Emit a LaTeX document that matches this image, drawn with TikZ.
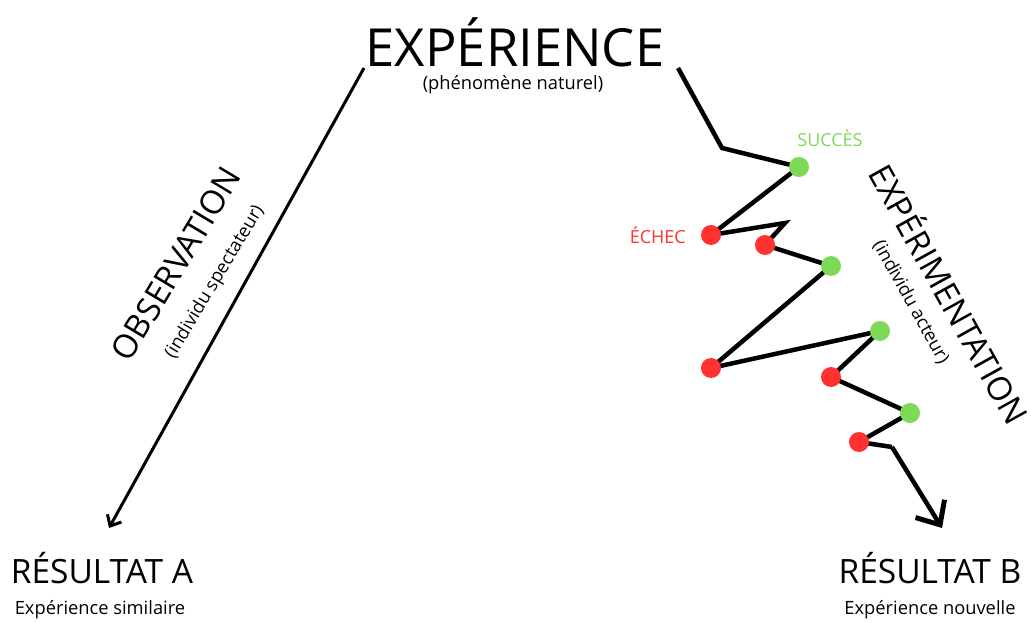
\documentclass[tikz,border=0pt]{standalone}
\usepackage{fontspec}
\setmainfont{Open Sans}
\usetikzlibrary{arrows.meta,positioning,calc}
\definecolor{okgreen}{HTML}{7ED957}
\definecolor{kored}{HTML}{FF3131}
\tikzset{ok/.style={circle,fill=okgreen,inner sep=0pt,minimum size=20pt},
 ko/.style={circle,fill=kored,inner sep=0pt,minimum size=20pt},
 zig/.style={line width=4.5pt,line join=miter},
 obs/.style={-{Straight Barb[length=9pt,width=16pt]},line width=3pt},
 title/.style={inner sep=0pt,font=\fontsize{52.5}{56}\selectfont},
 res/.style={inner sep=0pt,font=\fontsize{33.5}{36}\selectfont},
 way/.style={inner sep=0pt,font=\fontsize{33}{36}\selectfont},
 sub/.style={inner sep=0pt,font=\fontsize{18.3}{21}\selectfont},
 tag/.style={inner sep=0pt,font=\fontsize{18}{21}\selectfont}}

\begin{document}
\begin{tikzpicture}[x=1pt,y=-1pt]
\useasboundingbox (0,0) rectangle (1031,623);
% top
\node[title](exp) at(515,42){EXPÉRIENCE};
\node[sub](nat) at(513,85){(phénomène naturel)};
% observation side
\coordinate(o1) at(364,68);
\node[res](resa) at(102,568){RÉSULTAT A};
\node[sub](sima) at(100,610){Expérience similaire};
\coordinate(o2) at(109,528);
\draw[obs](o1)--(o2);
\node[way,rotate=59](obsv) at(176,264){OBSERVATION};
\node[sub,rotate=59](spec) at(215,282){(individu spectateur)};
% experimentation side
\coordinate(p0) at(678,68);
\coordinate(p1) at(722,148);
\coordinate(k1) at(785,223);
\coordinate(p2) at(892,447);
\coordinate(p3) at(942,528);
\foreach \n/\x/\y in {g1/799/167,r1/711/235,r2/765/245,g2/831/266,r3/711/368,
 g3/880/331,r4/831/377,g4/910/413,r5/859/442}
 \coordinate(\n) at(\x,\y);
\draw[zig](p0)--(p1)--(g1)--(r1)--(k1)--(r2)--(g2)--(r3)--(g3)--(r4)--(g4)--(r5)--(p2);
\draw[zig,line join=round,-{Straight Barb[length=19pt,width=34pt,line width=5pt]}](p2)--(p3);
\foreach \n in {g1,g2,g3,g4}\node[ok] at(\n){};
\foreach \n in {r1,r2,r3,r4,r5}\node[ko] at(\n){};
\node[tag,text=okgreen](suc) at(830,138){SUCCÈS};
\node[tag,text=kored,left=25pt of r1](ech){ÉCHEC};
\node[way,rotate=-61](expm) at(951,293){EXPÉRIMENTATION};
\node[sub,rotate=-61](act) at(911,302){(individu acteur)};
\node[res](resb) at(930,568){RÉSULTAT B};
\node[sub](nouv) at(930,610){Expérience nouvelle};
\end{tikzpicture}
\end{document}
